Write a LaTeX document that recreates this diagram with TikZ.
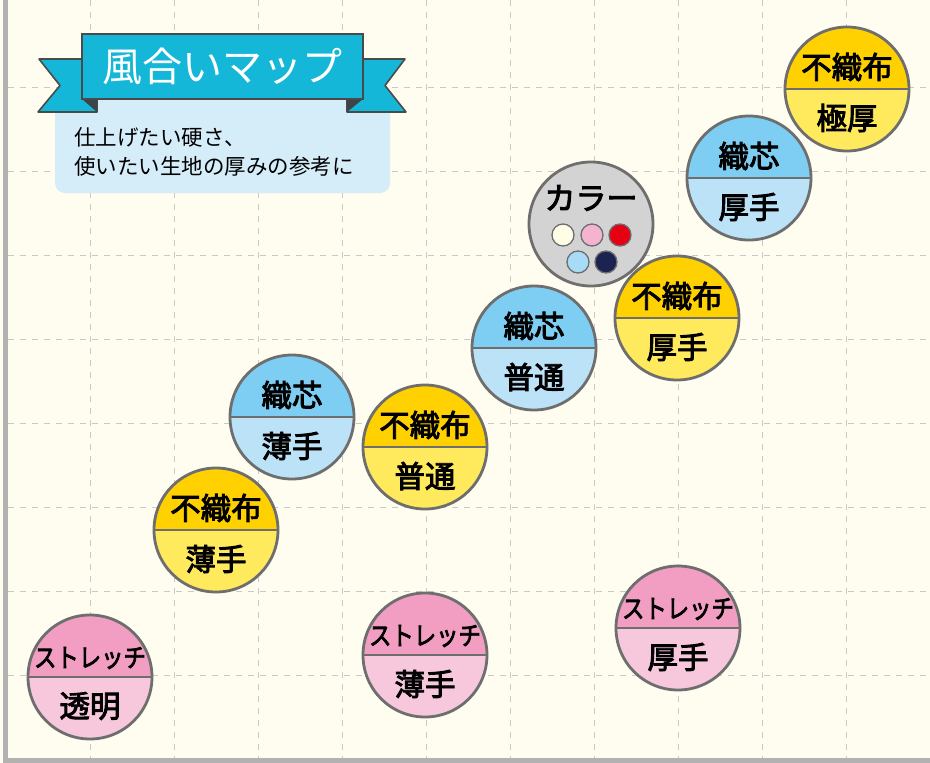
\documentclass[tikz,border=0pt]{standalone}
\usepackage{fontspec}
\setmainfont{Noto Sans CJK JP}
\newfontfamily\discfont{Noto Sans CJK JP}[FakeBold=3]
\usetikzlibrary{calc,positioning}
\definecolor{paper}{HTML}{FEFDEF}
\definecolor{gridline}{HTML}{C9C9C9}
\definecolor{axis}{HTML}{B2B2B2}
\definecolor{rim}{HTML}{6E6E6E}
\definecolor{banner}{HTML}{14B7D7}
\definecolor{bannerline}{HTML}{4A4A4A}
\definecolor{fold}{HTML}{3B4447}
\definecolor{note}{HTML}{D5ECF9}
\definecolor{ylwtop}{HTML}{FFD100}
\definecolor{ylwbot}{HTML}{FFE95C}
\definecolor{blutop}{HTML}{7ECEF4}
\definecolor{blubot}{HTML}{BCE2F8}
\definecolor{pnktop}{HTML}{F19EC2}
\definecolor{pnkbot}{HTML}{F7C8DC}
\definecolor{graydisc}{HTML}{D3D3D3}
\definecolor{dotcream}{HTML}{FFFDE6}
\definecolor{dotpink}{HTML}{F4B4D0}
\definecolor{dotred}{HTML}{E60012}
\definecolor{dotblue}{HTML}{A8DBF6}
\definecolor{dotnavy}{HTML}{1B2350}

\newcommand{\fabric}[5]{%
	\node[disc={#3top}{#3bot}] (#1) at (#2) {};
	\node[#3 label] (#1-top) at ([yshift=22pt]#1.center) {#4};
	\node[bot label] (#1-bot) at ([yshift=-29pt]#1.center) {#5};
}

\begin{document}
\begin{tikzpicture}[x=1pt,y=-1pt,
	round/.style={circle, draw=rim, line width=2.8pt, minimum size=124pt, inner sep=0pt},
	disc/.style 2 args={round,
		path picture={
			\fill[#1] (path picture bounding box.north west) rectangle (path picture bounding box.east);
			\fill[#2] (path picture bounding box.west) rectangle (path picture bounding box.south east);
			\draw[rim, line width=2.8pt] (path picture bounding box.west) -- (path picture bounding box.east);
		}},
	ylw label/.style={inner sep=0pt, font=\discfont\fontsize{30.5}{30.5}\selectfont},
	blu label/.style={inner sep=0pt, font=\discfont\fontsize{30.5}{30.5}\selectfont},
	pnk label/.style={inner sep=0pt, yshift=-3pt, transform shape, xscale=0.86, font=\discfont\fontsize{26}{26}\selectfont},
	bot label/.style={inner sep=0pt, font=\discfont\fontsize{30.5}{30.5}\selectfont},
	dot/.style={circle, draw=rim, line width=1.3pt, minimum size=22pt, inner sep=0pt}]
	\useasboundingbox (0,0) rectangle (930,763);
	\fill[paper] (0,0) rectangle (930,763);
	% grid
	\foreach \x in {90,174,...,846}
		\draw[gridline, dash pattern=on 6pt off 6pt] (\x,0) -- (\x,758);
	\foreach \y in {87,171,...,675}
		\draw[gridline, dash pattern=on 6pt off 6pt] (8,\y) -- (930,\y);
	\draw[axis, line width=5pt] (5.5,0) -- (5.5,760.5) -- (930,760.5);

	% title
	\fill[note, rounded corners=10pt] (55,90) rectangle (390,193);
	\node[align=left, anchor=west, inner sep=0pt, font=\fontsize{21.5}{29}\selectfont] (hint) at (74,152) {仕上げたい硬さ、\\使いたい生地の厚みの参考に};
	\filldraw[fill=banner, draw=bannerline, line width=1.6pt, line join=round]
		(97,59) -- (39,59) -- (60,85.5) -- (38,112) -- (97,112) -- cycle;
	\filldraw[fill=banner, draw=bannerline, line width=1.6pt, line join=round]
		(347,59) -- (405,59) -- (385,85.5) -- (406,112) -- (347,112) -- cycle;
	\fill[fold] (82,99) -- (97,99) -- (97,112) -- cycle;
	\fill[fold] (363,99) -- (347,99) -- (347,112) -- cycle;
	\node[draw=bannerline, fill=banner, line width=1.8pt, minimum width=281pt, minimum height=65pt,
		text=white, font=\fontsize{40}{40}\selectfont] (title) at (222.5,66.5) {風合いマップ};

	% colours
	\node[round, fill=graydisc] (colour) at (591,224) {};
	\node[inner sep=0pt, font=\discfont\fontsize{31}{31}\selectfont] (colour-top) at ([yshift=26pt]colour.center) {カラー};
	\foreach \c/\px/\py in {dotcream/563/235, dotpink/592/235, dotred/620/235, dotblue/578/262, dotnavy/606/262}
		\node[dot, fill=\c] (\c) at (\px,\py) {};

	% fabrics
	\fabric{fuseki-gokuatsu}{847,89}{ylw}{不織布}{極厚}
	\fabric{shishin-atsu}{749,178}{blu}{織芯}{厚手}
	\fabric{fuseki-atsu}{677,318}{ylw}{不織布}{厚手}
	\fabric{shishin-futsu}{534,348}{blu}{織芯}{普通}
	\fabric{shishin-usu}{292,417}{blu}{織芯}{薄手}
	\fabric{fuseki-futsu}{425,447}{ylw}{不織布}{普通}
	\fabric{fuseki-usu}{216,530}{ylw}{不織布}{薄手}
	\fabric{stretch-tomei}{90,677}{pnk}{ストレッチ}{透明}
	\fabric{stretch-usu}{425,655}{pnk}{ストレッチ}{薄手}
	\fabric{stretch-atsu}{678,628}{pnk}{ストレッチ}{厚手}
\end{tikzpicture}
\end{document}
